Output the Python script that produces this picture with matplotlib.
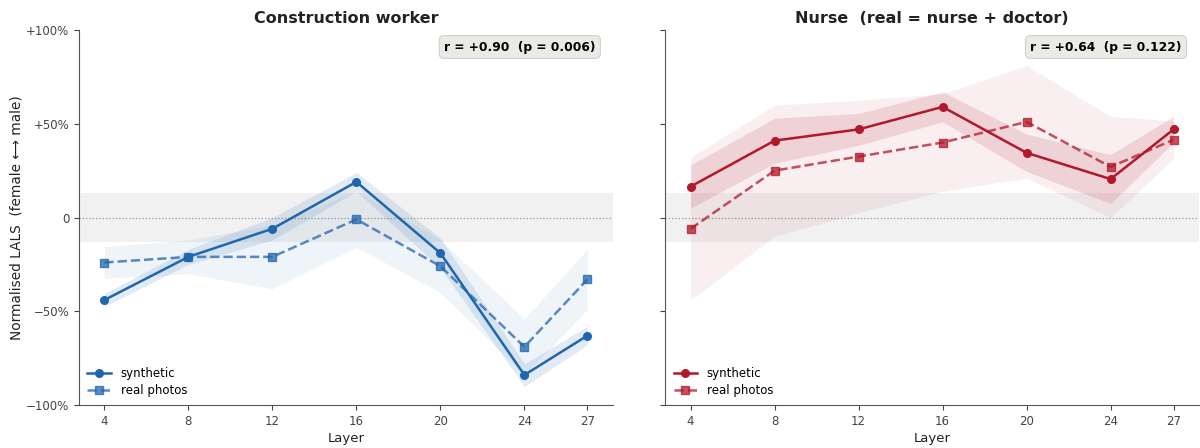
import numpy as np
import matplotlib
matplotlib.use('Agg')
import matplotlib.pyplot as plt

# layers probed
layers = [4, 8, 12, 16, 20, 24, 27]

# construction worker (percent)
cw_syn = [-44, -21, -6, 19, -19, -84, -63]
cw_syn_err = [3.5, 4, 6, 5, 8, 6, 5]
cw_real = [-24, -21, -21, -1, -26, -69, -33]
cw_real_err = [8.5, 9, 17, 15, 14, 15, 16]
cw_stats = "r = +0.90  (p = 0.006)"

# nurse (percent)
nu_syn = [16.5, 41, 47, 59, 34.5, 20.5, 47]
nu_syn_err = [11.5, 12, 8.5, 8, 10, 13, 7]
nu_real = [-6, 25, 32.5, 40, 51, 27, 41.5]
nu_real_err = [38, 35, 30, 26, 30, 27, 10]
nu_stats = "r = +0.64  (p = 0.122)"

titles = ["Construction worker", "Nurse  (real = nurse + doctor)"]
colors = ["#2166ac", "#b2182b"]
band = 13  # noise band half-width

fig, axes = plt.subplots(1, 2, figsize=(12, 4.48), dpi=100, sharey=True)
fig.subplots_adjust(left=0.066, right=0.999, top=0.933, bottom=0.096, wspace=0.099)

panels = [
    (cw_syn, cw_syn_err, cw_real, cw_real_err, cw_stats),
    (nu_syn, nu_syn_err, nu_real, nu_real_err, nu_stats),
]

x = np.array(layers)
for ax, (syn, syn_e, real, real_e, stats), title, c in zip(axes, panels, titles, colors):
    syn = np.array(syn); syn_e = np.array(syn_e)
    real = np.array(real); real_e = np.array(real_e)

    ax.axhspan(-band, band, color='#d9d9d9', alpha=0.35, lw=0, zorder=0)
    ax.axhline(0, color='#999999', ls=':', lw=0.9, zorder=1)

    ax.fill_between(x, real - real_e, real + real_e, color=c, alpha=0.07, lw=0, zorder=2)
    ax.fill_between(x, syn - syn_e, syn + syn_e, color=c, alpha=0.13, lw=0, zorder=2)

    ax.plot(x, syn, '-o', color=c, lw=1.8, ms=5.5, label='synthetic', zorder=4)
    ax.plot(x, real, '--s', color=c, lw=1.8, ms=5.5, alpha=0.75, label='real photos', zorder=3)

    ax.set_title(title, fontsize=11.5, fontweight='bold', color='#222222', pad=5)
    ax.set_xlabel("Layer", fontsize=9.5, color='#222222', labelpad=3)
    ax.set_xticks(layers)
    ax.set_xlim(2.8, 28.2)
    ax.set_ylim(-100, 100)
    ax.set_yticks([-100, -50, 0, 50, 100])
    ax.set_yticklabels(["\u2212100%", "\u221250%", "0", "+50%", "+100%"])
    ax.tick_params(labelsize=8.5, colors='#444444')
    for s in ['top', 'right']:
        ax.spines[s].set_visible(False)
    for s in ['left', 'bottom']:
        ax.spines[s].set_color('#555555')

    ax.text(0.968, 0.972, stats, transform=ax.transAxes, ha='right', va='top',
            fontsize=8.8, fontweight='bold',
            bbox=dict(boxstyle='round,pad=0.4', fc='#ebebe6', ec='#d0d0d0', lw=0.8))

    ax.legend(loc='lower left', frameon=False, fontsize=8.5, handlelength=2,
              borderaxespad=0.3, labelspacing=0.3)

axes[1].tick_params(labelleft=False)
axes[0].set_ylabel("Normalised LALS  (female \u27f7 male)", fontsize=9.8, color='#222222', labelpad=2)

fig.savefig("out.png", dpi=100)
